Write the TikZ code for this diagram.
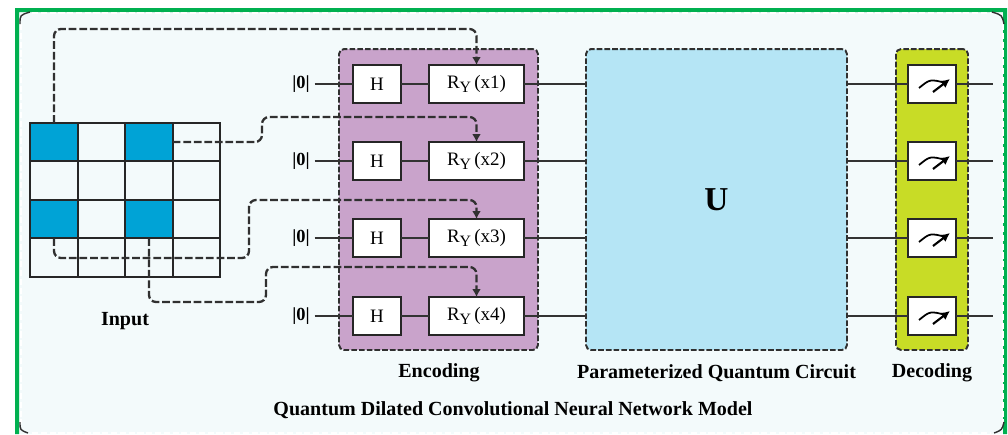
\documentclass[tikz,border=0pt]{standalone}
\usepackage{fontspec}
\usetikzlibrary{arrows.meta}
\setmainfont{Liberation Serif}
\definecolor{edgegreen}{HTML}{00B050}
\definecolor{panelbg}{HTML}{F3FAFB}
\definecolor{cellblue}{HTML}{00A3D6}
\definecolor{encpurple}{HTML}{C9A3CB}
\definecolor{circblue}{HTML}{B5E5F5}
\definecolor{decgreen}{HTML}{C8DC26}
\definecolor{dashgrey}{HTML}{303030}
\tikzset{
  cell/.style={draw=black!85, line width=1.1pt, minimum width=0.95cm, minimum height=0.77cm, inner sep=0pt, outer sep=0pt},
  gate/.style={draw=black!85, line width=1.2pt, fill=white, minimum height=0.76cm, inner sep=0pt, outer sep=0pt, font=\fontsize{10.8}{12}\selectfont},
  hgate/.style={gate, minimum width=0.96cm},
  rgate/.style={gate, minimum width=1.9cm},
  mgate/.style={gate, minimum width=0.96cm},
  block/.style={draw=dashgrey, line width=1.1pt, dash pattern=on 3.2pt off 1.2pt, rounded corners=0.1cm, minimum height=6.02cm, inner sep=0pt, outer sep=0pt},
  wire/.style={draw=black!80, line width=0.9pt},
  feed/.style={draw=dashgrey, line width=1.3pt, dash pattern=on 4.4pt off 1.6pt, rounded corners=0.14cm, -{Latex[length=4.5pt, width=5pt]}},
  needle/.style={line width=1.2pt, -{Latex[length=5pt, width=5pt]}},
  dial/.style={line width=1pt},
  ket/.style={font=\fontsize{10.5}{12}\selectfont\bfseries, inner sep=0pt, outer sep=0.1cm},
  caption/.style={font=\fontsize{11.4}{13}\selectfont\bfseries, inner sep=0pt},
}
\newcommand{\rylabel}[1]{R\raisebox{-0.4ex}{\fontsize{9}{10}\selectfont Y}\,(x#1)}
\begin{document}
\begin{tikzpicture}[x=0.02cm, y=-0.02cm]
        \useasboundingbox (0, 0) rectangle (1008, 434);
        % frame
        \fill[white] (0, 0) rectangle (1008, 434);
        \fill[panelbg] (19, 12) rectangle (1003, 434);
        \fill[edgegreen] (15, 434) -- (15, 8) -- (1007, 8) -- (1007, 434) -- (1003, 434) -- (1003, 12) -- (19, 12) -- (19, 434) -- cycle;
        \draw[white, line width=0.8pt, dash pattern=on 3.5pt off 1.5pt] (21, 24) -- (21, 424);
        \draw[white, line width=0.8pt, dash pattern=on 3.5pt off 1.5pt] (32, 13) -- (990, 13);
        \draw[white, line width=0.8pt, dash pattern=on 3.5pt off 1.5pt] (1003, 24) -- (1003, 424);
        \draw[white, line width=0.8pt, dash pattern=on 3.5pt off 1.5pt] (32, 433) -- (990, 433);
        \draw[dashgrey, line width=0.8pt] (20, 24) .. controls (20, 15) .. (30, 12);
        \draw[dashgrey, line width=0.8pt] (992, 12) .. controls (1002, 15) .. (1004, 24);
        \draw[dashgrey, line width=0.8pt] (20, 422) .. controls (20, 430) .. (28, 433);
        \draw[dashgrey, line width=0.8pt] (994, 433) .. controls (1002, 430) .. (1004, 422);
        % blocks
        \node[block, fill=encpurple, minimum width=3.98cm] (enc) at (438.5, 199.5) {};
        \node[block, fill=circblue, minimum width=5.22cm, font=\fontsize{19}{22}\selectfont\bfseries] (circ) at (716.5, 199.5) {U};
        \node[block, fill=decgreen, minimum width=1.44cm] (dec) at (932, 199.5) {};
        % input grid
        \node[cell, fill=cellblue] (c00) at (54, 142) {};
        \node[cell] (c10) at (101.5, 142) {};
        \node[cell, fill=cellblue] (c20) at (149, 142) {};
        \node[cell] (c30) at (196.5, 142) {};
        \node[cell] (c01) at (54, 180.5) {};
        \node[cell] (c11) at (101.5, 180.5) {};
        \node[cell] (c21) at (149, 180.5) {};
        \node[cell] (c31) at (196.5, 180.5) {};
        \node[cell, fill=cellblue] (c02) at (54, 219) {};
        \node[cell] (c12) at (101.5, 219) {};
        \node[cell, fill=cellblue] (c22) at (149, 219) {};
        \node[cell] (c32) at (196.5, 219) {};
        \node[cell] (c03) at (54, 257.5) {};
        \node[cell] (c13) at (101.5, 257.5) {};
        \node[cell] (c23) at (149, 257.5) {};
        \node[cell] (c33) at (196.5, 257.5) {};
        % kets
        \node[ket] (z1) at (301, 84) {|0|};
        \node[ket] (z2) at (301, 161) {|0|};
        \node[ket] (z3) at (301, 238) {|0|};
        \node[ket] (z4) at (301, 316) {|0|};
        % gates
        \node[hgate] (h1) at (377, 84) {H};
        \node[hgate] (h2) at (377, 161) {H};
        \node[hgate] (h3) at (377, 238) {H};
        \node[hgate] (h4) at (377, 316) {H};
        \node[rgate] (ry1) at (476.5, 84) {\rylabel{1}};
        \node[rgate] (ry2) at (476.5, 161) {\rylabel{2}};
        \node[rgate] (ry3) at (476.5, 238) {\rylabel{3}};
        \node[rgate] (ry4) at (476.5, 316) {\rylabel{4}};
        \node[mgate] (m1) at (932, 84) {};
        \node[mgate] (m2) at (932, 161) {};
        \node[mgate] (m3) at (932, 238) {};
        \node[mgate] (m4) at (932, 316) {};
        \coordinate (o1) at (993, 84);
        \coordinate (o2) at (993, 161);
        \coordinate (o3) at (993, 238);
        \coordinate (o4) at (993, 316);
        % wires
        \draw[wire] (z1) -- (h1);
        \draw[wire] (h1) -- (ry1);
        \draw[wire] (ry1) -- (ry1 -| circ.west);
        \draw[wire] (m1 -| circ.east) -- (m1);
        \draw[wire] (m1) -- (o1);
        \draw[wire] (z2) -- (h2);
        \draw[wire] (h2) -- (ry2);
        \draw[wire] (ry2) -- (ry2 -| circ.west);
        \draw[wire] (m2 -| circ.east) -- (m2);
        \draw[wire] (m2) -- (o2);
        \draw[wire] (z3) -- (h3);
        \draw[wire] (h3) -- (ry3);
        \draw[wire] (ry3) -- (ry3 -| circ.west);
        \draw[wire] (m3 -| circ.east) -- (m3);
        \draw[wire] (m3) -- (o3);
        \draw[wire] (z4) -- (h4);
        \draw[wire] (h4) -- (ry4);
        \draw[wire] (ry4) -- (ry4 -| circ.west);
        \draw[wire] (m4 -| circ.east) -- (m4);
        \draw[wire] (m4) -- (o4);
        % meters
        \draw[dial] ([shift={(-13, 4)}]m1.center) .. controls ([shift={(-2, -5)}]m1.center) .. ([shift={(14, -1)}]m1.center);
        \draw[needle] ([shift={(1, 8)}]m1.center) -- ([shift={(18, -5)}]m1.center);
        \draw[dial] ([shift={(-13, 4)}]m2.center) .. controls ([shift={(-2, -5)}]m2.center) .. ([shift={(14, -1)}]m2.center);
        \draw[needle] ([shift={(1, 8)}]m2.center) -- ([shift={(18, -5)}]m2.center);
        \draw[dial] ([shift={(-13, 4)}]m3.center) .. controls ([shift={(-2, -5)}]m3.center) .. ([shift={(14, -1)}]m3.center);
        \draw[needle] ([shift={(1, 8)}]m3.center) -- ([shift={(18, -5)}]m3.center);
        \draw[dial] ([shift={(-13, 4)}]m4.center) .. controls ([shift={(-2, -5)}]m4.center) .. ([shift={(14, -1)}]m4.center);
        \draw[needle] ([shift={(1, 8)}]m4.center) -- ([shift={(18, -5)}]m4.center);
        % feeds
        \draw[feed] (c00.north) -- (54, 29) -- (ry1.north |- 54, 29) -- (ry1.north);
        \draw[feed] (c20.east) -- (262, 142) -- (262, 117) -- (ry2.north |- 262, 117) -- (ry2.north);
        \draw[feed] (c02.south) -- (54, 258) -- (249, 258) -- (249, 200) -- (ry3.north |- 249, 200) -- (ry3.north);
        \draw[feed] (c22.south) -- (149, 302) -- (266, 302) -- (266, 267) -- (ry4.north |- 266, 267) -- (ry4.north);
        % captions
        \node[caption] (inp) at (125, 321) {Input};
        \node[caption] (enclab) at (439, 373) {Encoding};
        \node[caption] (circlab) at (716.5, 373) {Parameterized Quantum Circuit};
        \node[caption] (declab) at (932, 373) {Decoding};
        \node[caption] (title) at (513, 410) {Quantum Dilated Convolutional Neural Network Model};
\end{tikzpicture}
\end{document}
